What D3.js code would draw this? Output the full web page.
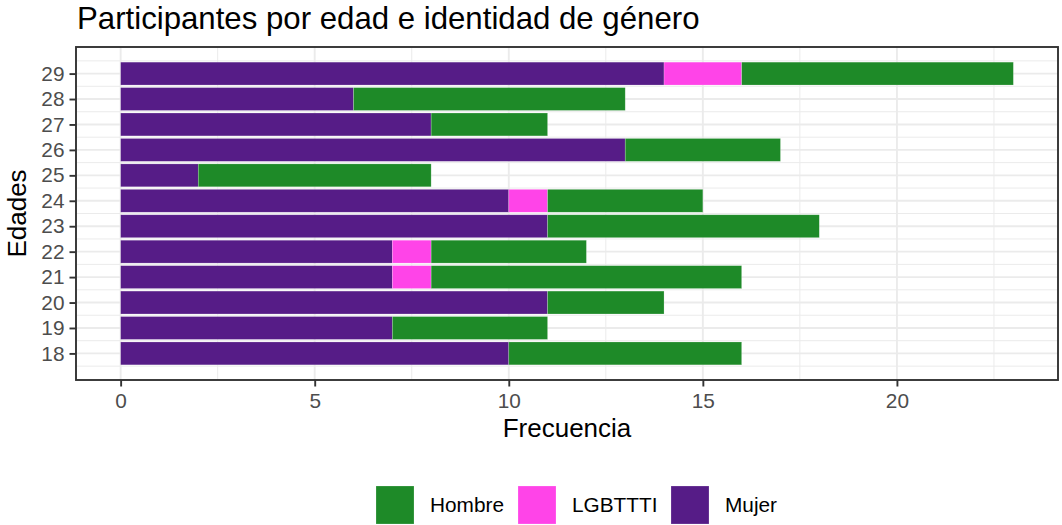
<!DOCTYPE html>
<meta charset="utf-8">
<title>Participantes</title>
<style>
body { margin: 0; background: #fff; }
text { font-family: "Liberation Sans", Arial, sans-serif; }
</style>
<body>
<script src="https://d3js.org/d3.v7.min.js"></script>
<script>

var ages = [18, 19, 20, 21, 22, 23, 24, 25, 26, 27, 28, 29];
var mujer   = [10, 7, 11, 7, 7, 11, 10, 2, 13, 8, 6, 14];
var lgbttti = [0, 0, 0, 1, 1, 0, 1, 0, 0, 0, 0, 2];
var hombre  = [6, 4, 3, 8, 4, 7, 4, 6, 4, 3, 7, 7];
var groups = ["Hombre", "LGBTTTI", "Mujer"];
var colors = ["#1e8a28", "#ff44e8", "#561c87"];
var xTicks = [0, 5, 10, 15, 20];

var width = 1062, height = 525;
var svg = d3.select("body").append("svg")
    .attr("width", width)
    .attr("height", height);

var pl = 76, pr = 1058, pt = 47, pb = 380;

var rows = ages.map(function(a, i) {
  return { age: a, Mujer: mujer[i], LGBTTTI: lgbttti[i], Hombre: hombre[i] };
});
// stacking from zero: Mujer, then LGBTTTI, then Hombre
var stack = d3.stack().keys(["Mujer", "LGBTTTI", "Hombre"]);
var layers = stack(rows);
var maxTotal = d3.max(rows, function(d) { return d.Mujer + d.LGBTTTI + d.Hombre; });

var x = d3.scaleLinear()
    .domain([-maxTotal * 0.05, maxTotal * 1.05])
    .range([pl, pr]);

// bars of width 0.9 plus 5% expansion, like ggplot
var yLo = d3.min(ages) - 0.45, yHi = d3.max(ages) + 0.45, yPad = (yHi - yLo) * 0.05;
var y = d3.scaleLinear()
    .domain([yLo - yPad, yHi + yPad])
    .range([pb, pt]);

var color = d3.scaleOrdinal().domain(groups).range(colors);

// grid
var g = svg.append("g");
var xMinor = d3.range(2.5, 25, 5);
g.selectAll(".xmin").data(xMinor).enter().append("line")
    .attr("x1", x).attr("x2", x).attr("y1", pt).attr("y2", pb)
    .attr("stroke", "#ebebeb").attr("stroke-width", 1);
var yMinor = d3.range(17.5, 30, 1);
g.selectAll(".ymin").data(yMinor).enter().append("line")
    .attr("x1", pl).attr("x2", pr).attr("y1", y).attr("y2", y)
    .attr("stroke", "#ebebeb").attr("stroke-width", 1);
g.selectAll(".xmaj").data(xTicks).enter().append("line")
    .attr("x1", x).attr("x2", x).attr("y1", pt).attr("y2", pb)
    .attr("stroke", "#ebebeb").attr("stroke-width", 1.9);
g.selectAll(".ymaj").data(ages).enter().append("line")
    .attr("x1", pl).attr("x2", pr).attr("y1", y).attr("y2", y)
    .attr("stroke", "#ebebeb").attr("stroke-width", 1.9);

// bars
var band = (y(0) - y(1)) * 0.9;
svg.append("g").selectAll("g").data(layers).enter().append("g")
    .attr("fill", function(d) { return color(d.key); })
  .selectAll("rect").data(function(d) { return d.filter(function(s) { return s[1] > s[0]; }); })
  .enter().append("rect")
    .attr("x", function(d) { return x(d[0]); })
    .attr("width", function(d) { return x(d[1]) - x(d[0]); })
    .attr("y", function(d) { return y(d.data.age) - band / 2; })
    .attr("height", band)
    .attr("stroke", "#ffffff")
    .attr("stroke-opacity", 0.35)
    .attr("stroke-width", 0.6);

// panel border
svg.append("rect")
    .attr("x", pl).attr("y", pt)
    .attr("width", pr - pl).attr("height", pb - pt)
    .attr("fill", "none").attr("stroke", "#333333").attr("stroke-width", 1.9);

// axes
var xAxis = svg.append("g")
    .attr("transform", "translate(0," + pb + ")")
    .call(d3.axisBottom(x).tickValues(xTicks).tickSize(6.5).tickPadding(4));
var yAxis = svg.append("g")
    .attr("transform", "translate(" + pl + ",0)")
    .call(d3.axisLeft(y).tickValues(ages).tickFormat(d3.format("d")).tickSize(6.5).tickPadding(5));
[xAxis, yAxis].forEach(function(a) {
  a.select(".domain").remove();
  a.selectAll(".tick line").attr("stroke", "#333333").attr("stroke-width", 1.9);
  a.selectAll(".tick text").attr("fill", "#4d4d4d")
      .style("font-size", "20.8px").style("font-family", "Liberation Sans, Arial, sans-serif");
});
xAxis.selectAll(".tick text").attr("dy", "0.85em");

// titles
svg.append("text")
    .attr("x", pl + 1).attr("y", 29)
    .attr("fill", "#000")
    .style("font-size", "31.2px")
    .text("Participantes por edad e identidad de género");

svg.append("text")
    .attr("x", (pl + pr) / 2).attr("y", 437)
    .attr("text-anchor", "middle")
    .style("font-size", "26px")
    .text("Frecuencia");

svg.append("text")
    .attr("transform", "translate(26," + ((pt + pb) / 2) + ") rotate(-90)")
    .attr("text-anchor", "middle")
    .style("font-size", "26px")
    .text("Edades");

// legend
var legendX = [376, 518, 671];
var lg = svg.append("g").selectAll("g").data(groups).enter().append("g")
    .attr("transform", function(d, i) { return "translate(" + legendX[i] + ",486)"; });
lg.append("rect")
    .attr("width", 38).attr("height", 38)
    .attr("fill", function(d) { return color(d); })
    .attr("stroke", "#ffffff").attr("stroke-opacity", 0.35).attr("stroke-width", 0.6);
lg.append("text")
    .attr("x", 54).attr("y", 19).attr("dy", "0.35em")
    .style("font-size", "20.8px")
    .text(function(d) { return d; });

</script>
</body>
